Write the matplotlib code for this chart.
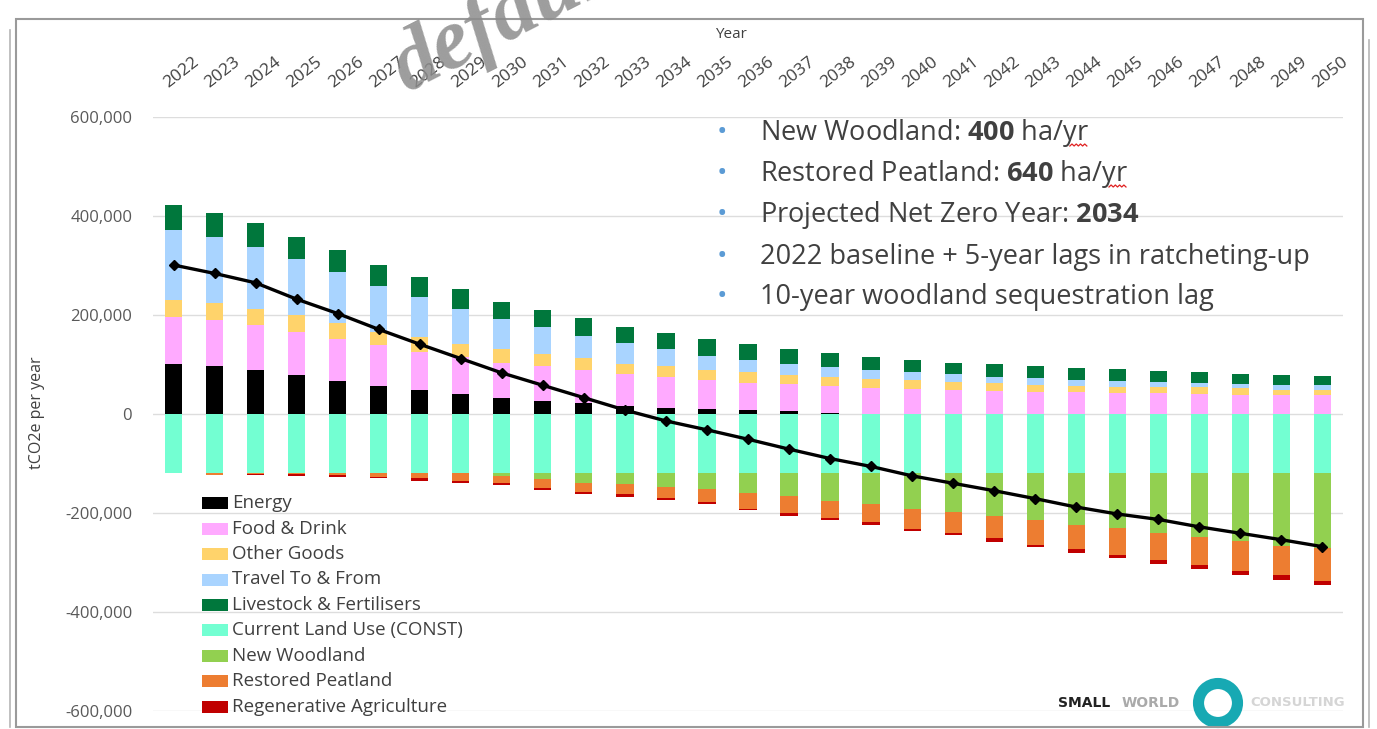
import matplotlib
matplotlib.use('Agg')
import matplotlib.pyplot as plt
import matplotlib.patches as mpatches
import matplotlib.transforms as mtransforms
from matplotlib.ticker import FuncFormatter
import numpy as np

plt.rcParams['font.family'] = ['Open Sans', 'DejaVu Sans']
plt.rcParams['mathtext.fontset'] = 'custom'
plt.rcParams['mathtext.rm'] = 'Open Sans'
plt.rcParams['mathtext.bf'] = 'Open Sans:bold'

years = list(range(2022, 2051))

# values in thousand tCO2e per year
energy = [101, 96, 88, 79, 67, 57, 48, 40, 32, 27, 22, 16, 12, 10, 8, 6, 3, 1, 0,
          0, 0, 0, 0, 0, 0, 0, 0, 0, 0]
food = [95, 93, 92, 87, 84, 82, 78, 76, 72, 69, 66, 65, 62, 59, 55, 54, 54, 51, 50,
        48, 46, 45, 45, 43, 43, 41, 39, 39, 39]
other_goods = [34, 35, 32, 34, 33, 27, 30, 25, 27, 25, 25, 21, 23, 20, 21, 19, 18, 18, 18,
               16, 16, 14, 12, 12, 11, 13, 14, 10, 10]
travel = [142, 134, 126, 113, 102, 93, 80, 71, 60, 54, 44, 42, 34, 28, 25, 23, 19, 19, 17,
          16, 13, 13, 12, 12, 10, 8, 7, 9, 9]
livestock = [50, 49, 47, 44, 45, 42, 40, 40, 36, 36, 37, 32, 32, 34, 32, 30, 29, 27, 24,
             24, 26, 25, 23, 23, 23, 22, 21, 21, 19]
current_land = [-120, -120, -120, -120, -120, -120, -120, -120, -120, -120, -120, -120,
                -120, -120, -120, -120, -120, -120, -120, -120, -120, -120, -120, -120,
                -120, -120, -120, -120, -120]
new_woodland = [0, 0, 0, 0, 0, 0, 0, 0, -6, -12, -19, -22, -27, -32, -39, -45, -55, -61, -72,
                -78, -87, -95, -105, -111, -120, -128, -137, -146, -151]
peatland = [0, -3, -1, -2, -4, -8, -10, -15, -14, -17, -18, -19, -23, -25, -32, -34, -35, -38,
            -40, -43, -43, -49, -48, -54, -54, -57, -60, -60, -66]
regen_ag = [0, 0, -3, -3, -4, -2, -5, -5, -4, -5, -4, -6, -4, -4, -3, -7, -5, -5, -5,
            -4, -8, -5, -7, -6, -9, -9, -8, -9, -8]
net = [301, 284, 265, 232, 203, 171, 141, 112, 83, 58, 33, 8, -14, -32, -51, -71, -90, -106,
       -125, -140, -155, -171, -188, -202, -213, -228, -241, -254, -268]

series_labels = ['Energy', 'Food & Drink', 'Other Goods', 'Travel To & From',
                 'Livestock & Fertilisers', 'Current Land Use (CONST)', 'New Woodland',
                 'Restored Peatland', 'Regenerative Agriculture']
colors = ['#000000', '#FFAAFF', '#FFD36B', '#A9D4FF', '#00773C',
          '#73FFD2', '#92D050', '#ED7D31', '#C00000']

notes = ['New Woodland: $\\mathbf{400}$ ha/yr',
         'Restored Peatland: $\\mathbf{640}$ ha/yr',
         'Projected Net Zero Year: $\\mathbf{2034}$',
         '2022 baseline + 5-year lags in ratcheting-up',
         '10-year woodland sequestration lag']

W, H = 1377, 729
fig = plt.figure(figsize=(W / 100, H / 100), dpi=100)

def fx(x):
    return x / W

def fy(y):
    return 1 - y / H

ax = fig.add_axes([fx(153), fy(711), fx(1343) - fx(153), fy(117) - fy(711)])

x = np.array(years)
bw = 0.42
pos_bottom = np.zeros(len(years))
for vals, col in zip([energy, food, other_goods, travel, livestock], colors[:5]):
    ax.bar(x, vals, bw, bottom=pos_bottom, color=col, zorder=2)
    pos_bottom += np.array(vals)
neg_bottom = np.zeros(len(years))
for vals, col in zip([current_land, new_woodland, peatland, regen_ag], colors[5:]):
    ax.bar(x, vals, bw, bottom=neg_bottom, color=col, zorder=2)
    neg_bottom += np.array(vals)

ax.plot(x, net, color='black', lw=2.4, marker='D', ms=5, zorder=4)

ax.set_xlim(2021.5, 2050.5)
ax.set_ylim(-600, 600)
ax.set_yticks(range(-600, 601, 200))
ax.yaxis.set_major_formatter(FuncFormatter(lambda v, p: f'{int(v * 1000):,}'))
ax.yaxis.grid(True, color='#DDDDDD', lw=1)
ax.set_axisbelow(True)
for s in ax.spines.values():
    s.set_visible(False)
ax.tick_params(axis='y', length=0, pad=15, labelsize=12, labelcolor='#595959')

ax.xaxis.tick_top()
ax.set_xticks(years)
ax.set_xticklabels([str(y) for y in years], rotation=38, ha='left', va='baseline',
                   rotation_mode='anchor', fontsize=12.5, color='#404040')
ax.tick_params(axis='x', length=0, pad=21)
shift = mtransforms.ScaledTranslation(-5 / 100, 0, fig.dpi_scale_trans)
for lbl in ax.get_xticklabels():
    lbl.set_transform(lbl.get_transform() + shift)

fig.text(fx(731), fy(35), 'Year', ha='center', va='center', fontsize=11, color='#404040')
fig.text(fx(37), fy(413), 'tCO2e per year', rotation=90, ha='center', va='center',
         fontsize=11.5, color='#404040')

# legend
for i, (lab, col) in enumerate(zip(series_labels, colors)):
    yc = 503.3 + i * 25.4
    fig.add_artist(mpatches.Rectangle((fx(202), fy(yc + 6)), fx(228) - fx(202), 12 / H,
                                      facecolor=col, edgecolor='none'))
    fig.text(fx(232), fy(yc), lab, ha='left', va='center', fontsize=13.5, color='#404040')

# notes
renderer = fig.canvas.get_renderer()
for i, t in enumerate(notes):
    yc = [133, 174, 215, 257, 297][i]
    fig.text(fx(722), fy(yc), '\u2022', ha='center', va='center', fontsize=20, color='#5B9BD5')
    txt = fig.text(fx(760), fy(yc), t, ha='left', va='center', fontsize=19.5, color='#404040')
    if t.endswith('ha/yr'):
        # spell-check squiggle under "yr"
        bb = txt.get_window_extent(renderer)
        xs = np.linspace(bb.x1 - 19, bb.x1 - 2, 9)
        ys = bb.y0 + 3 + np.array([0, 2] * 5)[:9]
        fig.add_artist(plt.Line2D(xs / W, ys / H, color='#E02020', lw=0.9))

# logo
fig.text(fx(1058), fy(703), 'SMALL', ha='left', va='center', fontsize=10, fontweight='bold',
         color='#222222', family='DejaVu Sans')
fig.text(fx(1122), fy(703), 'WORLD', ha='left', va='center', fontsize=10, fontweight='bold',
         color='#AAAAAA', family='DejaVu Sans')
fig.text(fx(1250), fy(703), 'CONSULTING', ha='left', va='center', fontsize=9.5,
         fontweight='bold', color='#D5D5D5', family='DejaVu Sans')
fig.add_artist(mpatches.Ellipse((fx(1218), fy(703)), 39 / W, 39 / H, facecolor='none',
                                edgecolor='#17A9B3', lw=8))

# frame
fig.add_artist(mpatches.Rectangle((fx(16), fy(727)), fx(1363) - fx(16), fy(19) - fy(727),
                                  facecolor='none', edgecolor='#9A9A9A', lw=1.5))
fig.add_artist(plt.Line2D([fx(10), fx(10)], [fy(727), fy(30)], color='#B5B5B5', lw=1.2))
fig.add_artist(plt.Line2D([fx(1369), fx(1369)], [fy(727), fy(40)], color='#B5B5B5', lw=1.2))

# watermark
fig.text(fx(380), fy(90), 'default', rotation=27, ha='left', va='baseline', fontsize=62,
         fontweight='bold', fontstyle='italic', family='Liberation Serif',
         color='#8C8C8C', alpha=0.85)

fig.savefig('out.png', dpi=100)
